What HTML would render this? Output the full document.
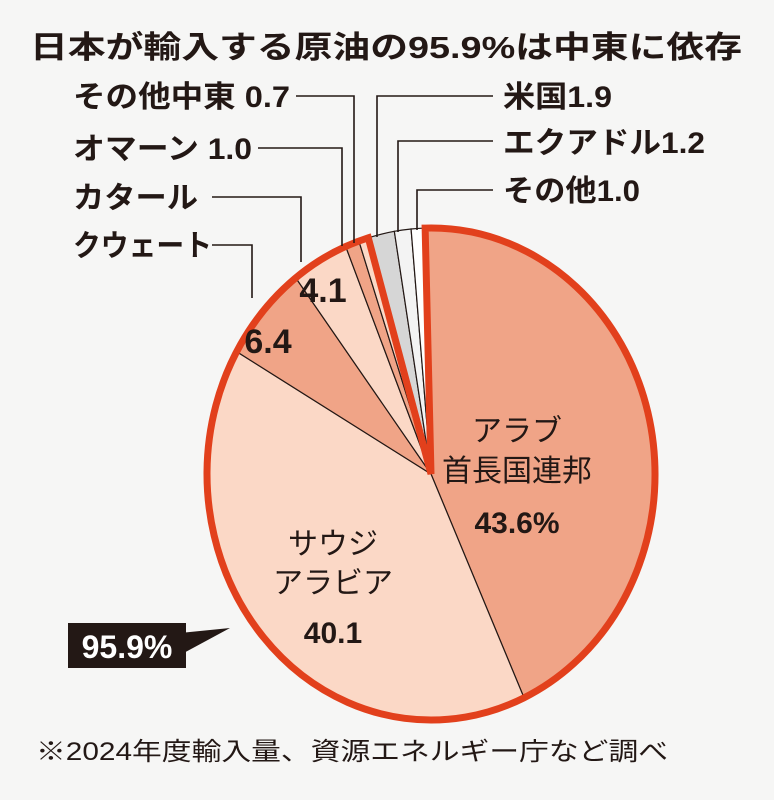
<!DOCTYPE html>
<html><head><meta charset="utf-8">
<style>
html,body{margin:0;padding:0;background:#f6f6f5;}
svg{display:block;}
text{font-family:"Liberation Sans","Noto Sans CJK JP",sans-serif;fill:#231815;}
</style></head><body>
<svg id="s" width="774" height="800" viewBox="0 0 774 800" xmlns="http://www.w3.org/2000/svg">
<rect width="774" height="800" fill="#f6f6f5"/>
<text x="30" y="58" font-size="31" font-weight="bold" textLength="712" lengthAdjust="spacingAndGlyphs">日本が輸入する原油の95.9%は中東に依存</text>
<g id="pie"></g>
<g stroke="#231815" stroke-width="1.6" fill="none">
<polyline points="296,96 354,96 354,243"/>
<polyline points="258,148 342,148 342,246"/>
<polyline points="212,197 301,197 301,262"/>
<polyline points="212,245 252,245 252,298"/>
<polyline points="493,96 377,96 377,237"/>
<polyline points="493,141 398,141 398,232"/>
<polyline points="493,190 417,190 417,230"/>
</g>
<g font-size="30" font-weight="bold" lengthAdjust="spacingAndGlyphs">
<text x="73" y="107" textLength="217" lengthAdjust="spacingAndGlyphs">その他中東 0.7</text>
<text x="73" y="159" textLength="179" lengthAdjust="spacingAndGlyphs">オマーン 1.0</text>
<text x="73" y="208" textLength="125" lengthAdjust="spacingAndGlyphs">カタール</text>
<text x="73" y="256" textLength="139" lengthAdjust="spacingAndGlyphs">クウェート</text>
<text x="503" y="107" textLength="109" lengthAdjust="spacingAndGlyphs">米国1.9</text>
<text x="503" y="153" textLength="202" lengthAdjust="spacingAndGlyphs">エクアドル1.2</text>
<text x="503" y="201" textLength="137" lengthAdjust="spacingAndGlyphs">その他1.0</text>
</g>
<g font-size="30" text-anchor="middle">
<text x="517" y="441">アラブ</text>
<text x="517" y="481">首長国連邦</text>
<text x="517" y="533" font-weight="bold">43.6%</text>
<text x="333" y="554">サウジ</text>
<text x="333" y="593">アラビア</text>
<text x="333" y="643" font-weight="bold">40.1</text>
<text x="268" y="353" font-weight="bold" font-size="34">6.4</text>
<text x="323" y="302" font-weight="bold" font-size="34">4.1</text>
</g>
<polygon points="180,633 230,628 180,655" fill="#231815"/>
<rect x="68" y="623" width="118" height="45" fill="#231815"/>
<text x="127" y="658" font-size="32" font-weight="bold" text-anchor="middle" style="fill:#fff">95.9%</text>
<text x="36" y="760" font-size="25" textLength="632" lengthAdjust="spacingAndGlyphs">※2024年度輸入量、資源エネルギー庁など調べ</text>
</svg>
<script>
(function(){
var cx=431,cy=474,rx=224,ry=246,rot=-1.5;
var v=[43.6,40.1,6.4,4.1,1.0,0.7,1.9,1.2,1.0];
var c=["#f0a487","#fbd8c6","#f0a487","#fbd8c6","#f0a487","#fbd8c6","#d6d6d6","#f3f3f3","#ffffff"];
function pt(p){var a=(rot+p*3.6)*Math.PI/180;return [cx+rx*Math.sin(a),cy-ry*Math.cos(a)];}
var g=document.getElementById("pie"),h="",cum=0;
for(var i=0;i<v.length;i++){
 var a=pt(cum),b=pt(cum+v[i]),l=v[i]>50?1:0;
 h+='<path d="M'+cx+','+cy+' L'+a[0]+','+a[1]+' A'+rx+','+ry+' 0 '+l+' 1 '+b[0]+','+b[1]+' Z" fill="'+c[i]+'" stroke="#231815" stroke-width="1.2"/>';
 cum+=v[i];
}
var a=pt(0),b=pt(95.9);
h+='<path d="M'+cx+','+cy+' L'+a[0]+','+a[1]+' A'+rx+','+ry+' 0 1 1 '+b[0]+','+b[1]+' Z" fill="none" stroke="#e2401c" stroke-width="7" stroke-linejoin="miter"/>';
g.innerHTML=h;
})();
</script>
</body></html>
